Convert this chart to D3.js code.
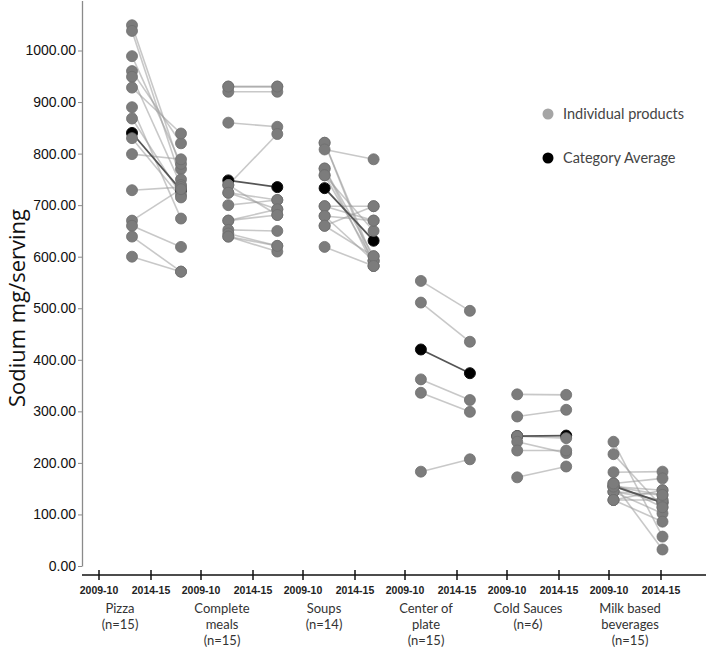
<!DOCTYPE html>
<html><head><meta charset="utf-8">
<script src="https://cdn.jsdelivr.net/npm/d3@7"></script>
<style>body{margin:0;background:#fff}svg{display:block}</style>
</head><body>
<svg id="c" width="708" height="649"></svg>
<script>
const groups = ["Pizza","Complete meals","Soups","Center of plate","Cold Sauces","Milk based beverages"];
const groupLabels = [["Pizza","(n=15)"],["Complete","meals","(n=15)"],["Soups","(n=14)"],["Center of","plate","(n=15)"],["Cold Sauces","(n=6)"],["Milk based","beverages","(n=15)"]];
const years = ["2009-10","2014-15"];
const yTicks = [0,100,200,300,400,500,600,700,800,900,1000];

const pizza2009 = [1049,1038,989,960,949,928,890,868,830,799,729,670,660,639,600];
const pizza2014 = [770,750,780,820,739,839,674,720,715,789,735,731,619,571,571];
const meals2009 = [930,920,860,739,739,724,724,700,670,670,652,645,639,639,930];
const meals2014 = [930,920,852,838,681,692,710,710,692,681,650,621,610,621,930];
const soups2009 = [821,821,808,771,771,758,758,698,698,679,679,660,660,619];
const soups2014 = [592,582,789,601,582,650,592,698,670,670,592,698,601,582];
const center2009 = [553,511,362,336,183];
const center2014 = [495,435,322,299,207];
const cold2009 = [333,290,252,241,224,172];
const cold2014 = [332,303,248,219,224,193];
const milk2009 = [241,217,182,160,160,154,154,144,144,144,128,128,128,154,160];
const milk2014 = [57,114,183,170,32,147,123,138,102,128,128,86,147,138,114];
const avg2009 = [840,748,733,420,252,155];
const avg2014 = [729,735,631,374,253,123];

const before = [pizza2009, meals2009, soups2009, center2009, cold2009, milk2009];
const after = [pizza2014, meals2014, soups2014, center2014, cold2014, milk2014];

const svg = d3.select("#c");
const y = d3.scaleLinear().domain([0,1097]).range([566,0.5]);
const xg = d3.scaleBand().domain(groups).range([108.35,686.15]);
const xt = d3.scaleBand().domain(groups).range([74,686]);
const dotOff = d3.scalePoint().domain(years).range([-24.5,24.5]);
const tickOff = d3.scalePoint().domain(years).range([-26,26]);
const dx = (g,yr) => xg(g) + xg.bandwidth()/2 + dotOff(yr);

// y axis
const ya = svg.append("g").attr("transform","translate(82,0)")
  .call(d3.axisLeft(y).tickValues(yTicks).tickFormat(d3.format(".2f")).tickSize(4).tickSizeOuter(0));
ya.select(".domain").attr("stroke","#8a8a8a").attr("stroke-width",1.3);
ya.selectAll(".tick line").attr("stroke","#8a8a8a");
ya.selectAll(".tick text").attr("x",-6).attr("font-family","Liberation Sans, Arial").attr("font-size",14).attr("fill","#111");

svg.append("text").attr("transform","translate(25,308) rotate(-90)").attr("text-anchor","middle")
  .attr("font-family","Open Sans").attr("font-size",22).attr("fill","#111").text("Sodium mg/serving");

// x axis
svg.append("line").attr("x1",82).attr("x2",706).attr("y1",575).attr("y2",575).attr("stroke","#111").attr("stroke-width",1.5);
groups.forEach((g,i)=>{
  const cx = xt(g)+xt.bandwidth()/2;
  years.forEach(yr=>{
    const tx = cx + tickOff(yr);
    svg.append("line").attr("x1",tx).attr("x2",tx).attr("y1",570).attr("y2",580).attr("stroke","#111").attr("stroke-width",1.5);
    svg.append("text").attr("x",tx).attr("y",594).attr("text-anchor","middle")
      .attr("font-family","Liberation Sans, Arial").attr("font-size",10.5).attr("font-weight","bold").attr("fill","#222").text(yr);
  });
  groupLabels[i].forEach((t,j)=>{
    svg.append("text").attr("x",cx-5).attr("y",613+j*16).attr("text-anchor","middle")
      .attr("font-family","Lato").attr("font-size",13).attr("fill","#333").text(t);
  });
});

// lines
groups.forEach((g,i)=>{
  before[i].forEach((v,k)=>{
    svg.append("line").attr("x1",dx(g,years[0])).attr("y1",y(v)).attr("x2",dx(g,years[1])).attr("y2",y(after[i][k]))
      .attr("stroke","#9a9a9a").attr("stroke-opacity",0.55).attr("stroke-width",1.6);
  });
});
groups.forEach((g,i)=>{
  svg.append("line").attr("x1",dx(g,years[0])).attr("y1",y(avg2009[i])).attr("x2",dx(g,years[1])).attr("y2",y(avg2014[i]))
    .attr("stroke","#555").attr("stroke-width",1.8);
});
// average dots
groups.forEach((g,i)=>{
  [[years[0],avg2009[i]],[years[1],avg2014[i]]].forEach(([yr,v])=>{
    svg.append("circle").attr("cx",dx(g,yr)).attr("cy",y(v)).attr("r",5.5).attr("fill","#000").attr("stroke","#111");
  });
});
// individual dots
groups.forEach((g,i)=>{
  [[years[0],before[i]],[years[1],after[i]]].forEach(([yr,arr])=>{
    arr.forEach(v=>{
      svg.append("circle").attr("cx",dx(g,yr)).attr("cy",y(v)).attr("r",5.5).attr("fill","#7c7c7c").attr("stroke","#6e6e6e").attr("stroke-width",0.8);
    });
  });
});

// legend
const leg = [["Individual products","#a5a5a5"],["Category Average","#000"]];
leg.forEach(([t,c],i)=>{
  svg.append("circle").attr("cx",548).attr("cy",114+i*44).attr("r",5.5).attr("fill",c);
  svg.append("text").attr("x",563).attr("y",119+i*44).attr("font-family","Lato").attr("font-size",14.5).attr("fill","#444").text(t);
});
</script>
</body></html>
